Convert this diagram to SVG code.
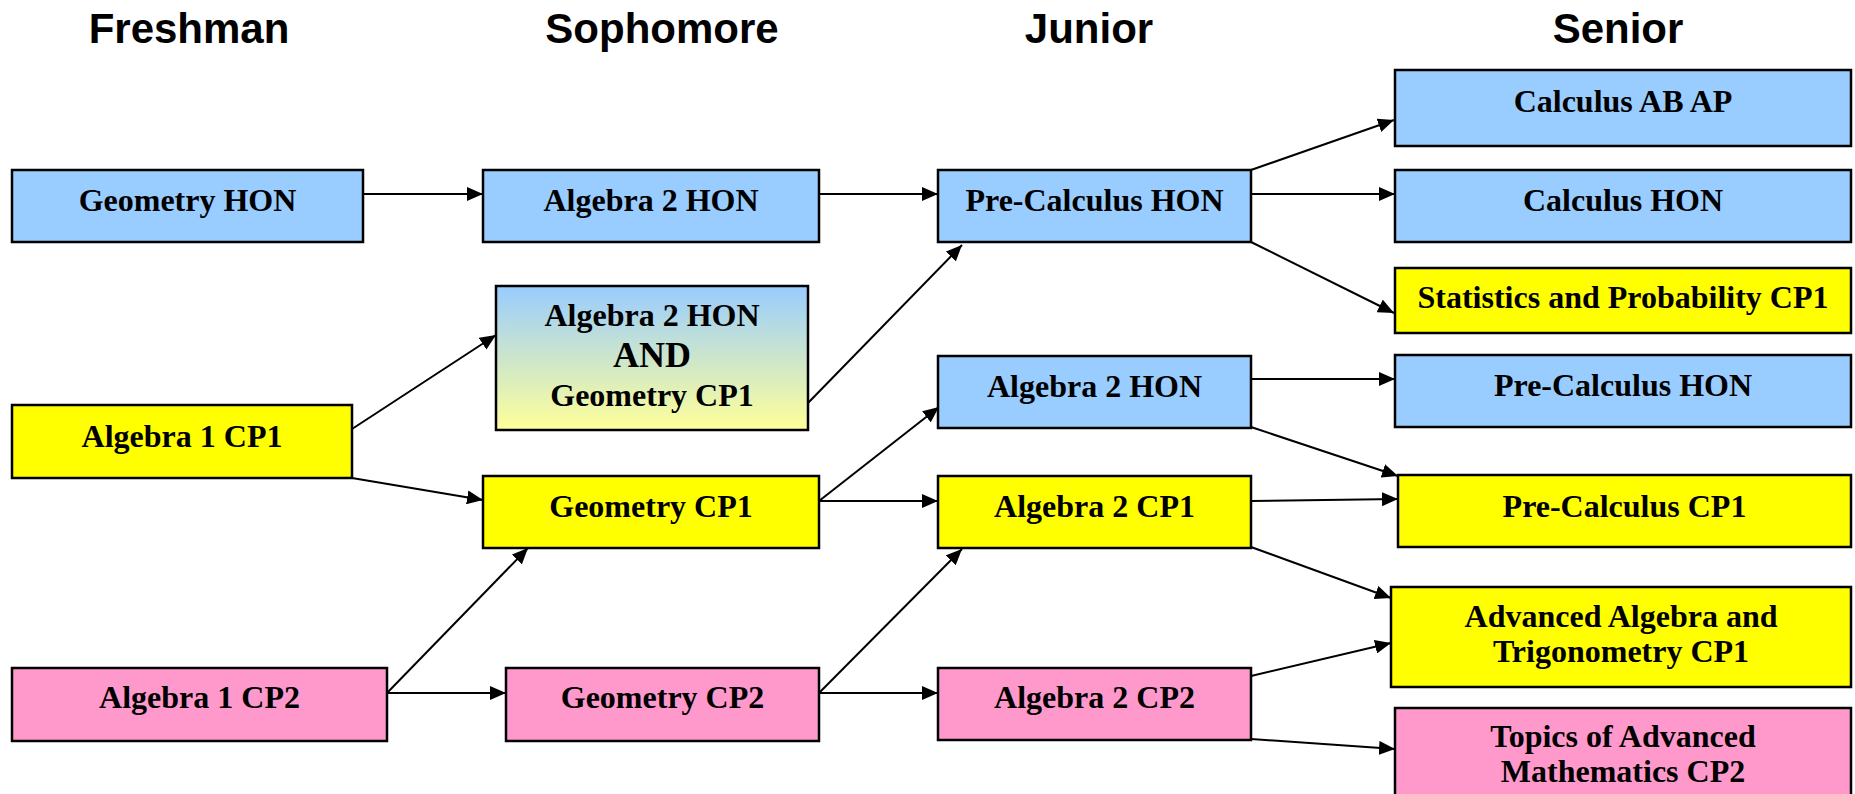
<svg xmlns="http://www.w3.org/2000/svg" width="1855" height="794" viewBox="0 0 1855 794">
<style>
.hdr{font-family:"Liberation Sans",Arial,sans-serif;font-weight:bold;font-size:42px;fill:#000;text-anchor:middle}
.box{stroke:#000;stroke-width:2.5}
.blue{fill:#99CCFF}
.yel{fill:#FFFF00}
.pink{fill:#FF99CC}
.lbl{font-family:"Liberation Serif","Times New Roman",serif;font-weight:bold;font-size:32px;fill:#000;text-anchor:middle}
.big{font-size:36px}
.con{stroke:#000;stroke-width:2;fill:none;marker-end:url(#ah)}
</style>
<defs>
<marker id="ah" markerUnits="userSpaceOnUse" markerWidth="17" markerHeight="14" refX="16" refY="7" orient="auto">
<path d="M0,0 L16,7 L0,14 Z" fill="#000"/>
</marker>
<linearGradient id="grad" x1="0" y1="0" x2="0" y2="1">
<stop offset="0" stop-color="#99CCFF"/>
<stop offset="1" stop-color="#FFFF99"/>
</linearGradient>
</defs>
<rect width="1855" height="794" fill="#fff"/>
<g id="headers">
<text class="hdr" x="189" y="43">Freshman</text>
<text class="hdr" x="662" y="43">Sophomore</text>
<text class="hdr" x="1089" y="43">Junior</text>
<text class="hdr" x="1618" y="43">Senior</text>
</g>
<g id="connectors">
<path class="con" d="M363,194 L483,194"/>
<path class="con" d="M819,194 L938,194"/>
<path class="con" d="M1251,170 L1394,120"/>
<path class="con" d="M1251,194 L1395,194"/>
<path class="con" d="M1251,242 L1394,313"/>
<path class="con" d="M352,429 L496,335"/>
<path class="con" d="M352,478 L483,500"/>
<path class="con" d="M387,693 L528,548"/>
<path class="con" d="M387,693 L506,693"/>
<path class="con" d="M808,403 L962,245"/>
<path class="con" d="M819,501 L939,407"/>
<path class="con" d="M819,501 L938,501"/>
<path class="con" d="M819,693 L962,549"/>
<path class="con" d="M819,693 L938,693"/>
<path class="con" d="M1251,379 L1395,379"/>
<path class="con" d="M1251,427 L1398,476"/>
<path class="con" d="M1251,501 L1398,499"/>
<path class="con" d="M1251,547 L1391,598"/>
<path class="con" d="M1251,676 L1391,643"/>
<path class="con" d="M1251,739 L1395,749"/>
</g>
<g id="geometry-hon">
<rect class="box blue" x="12" y="170" width="351" height="72"/>
<text class="lbl" x="187.5" y="211">Geometry HON</text>
</g>
<g id="algebra1-cp1">
<rect class="box yel" x="12" y="405" width="340" height="73"/>
<text class="lbl" x="182" y="447">Algebra 1 CP1</text>
</g>
<g id="algebra1-cp2">
<rect class="box pink" x="12" y="668" width="375" height="73"/>
<text class="lbl" x="199.5" y="708">Algebra 1 CP2</text>
</g>
<g id="soph-algebra2-hon">
<rect class="box blue" x="483" y="170" width="336" height="72"/>
<text class="lbl" x="651" y="211">Algebra 2 HON</text>
</g>
<g id="soph-combo">
<rect class="box" fill="url(#grad)" x="496" y="286" width="312" height="144"/>
<text class="lbl" x="652" y="326">Algebra 2 HON</text>
<text class="lbl big" x="652" y="367">AND</text>
<text class="lbl" x="652" y="406">Geometry CP1</text>
</g>
<g id="geometry-cp1">
<rect class="box yel" x="483" y="476" width="336" height="72"/>
<text class="lbl" x="651" y="517">Geometry CP1</text>
</g>
<g id="geometry-cp2">
<rect class="box pink" x="506" y="668" width="313" height="73"/>
<text class="lbl" x="662.5" y="708">Geometry CP2</text>
</g>
<g id="precalc-hon-jr">
<rect class="box blue" x="938" y="170" width="313" height="72"/>
<text class="lbl" x="1094.5" y="211">Pre-Calculus HON</text>
</g>
<g id="algebra2-hon-jr">
<rect class="box blue" x="938" y="356" width="313" height="72"/>
<text class="lbl" x="1094.5" y="397">Algebra 2 HON</text>
</g>
<g id="algebra2-cp1">
<rect class="box yel" x="938" y="476" width="313" height="72"/>
<text class="lbl" x="1094.5" y="517">Algebra 2 CP1</text>
</g>
<g id="algebra2-cp2">
<rect class="box pink" x="938" y="668" width="313" height="72"/>
<text class="lbl" x="1094.5" y="708">Algebra 2 CP2</text>
</g>
<g id="calculus-ab-ap">
<rect class="box blue" x="1395" y="70" width="456" height="76"/>
<text class="lbl" x="1623" y="112">Calculus AB AP</text>
</g>
<g id="calculus-hon">
<rect class="box blue" x="1395" y="170" width="456" height="72"/>
<text class="lbl" x="1623" y="211">Calculus HON</text>
</g>
<g id="stats-prob-cp1">
<rect class="box yel" x="1395" y="268" width="456" height="65"/>
<text class="lbl" x="1623" y="308">Statistics and Probability CP1</text>
</g>
<g id="precalc-hon-sr">
<rect class="box blue" x="1395" y="355" width="456" height="72"/>
<text class="lbl" x="1623" y="396">Pre-Calculus HON</text>
</g>
<g id="precalc-cp1">
<rect class="box yel" x="1398" y="475" width="453" height="72"/>
<text class="lbl" x="1624.5" y="517">Pre-Calculus CP1</text>
</g>
<g id="adv-alg-trig-cp1">
<rect class="box yel" x="1391" y="587" width="460" height="100"/>
<text class="lbl" x="1621" y="627">Advanced Algebra and</text>
<text class="lbl" x="1621" y="662">Trigonometry CP1</text>
</g>
<g id="topics-adv-math-cp2">
<rect class="box pink" x="1395" y="708" width="456" height="100"/>
<text class="lbl" x="1623" y="747">Topics of Advanced</text>
<text class="lbl" x="1623" y="782">Mathematics CP2</text>
</g>
</svg>
